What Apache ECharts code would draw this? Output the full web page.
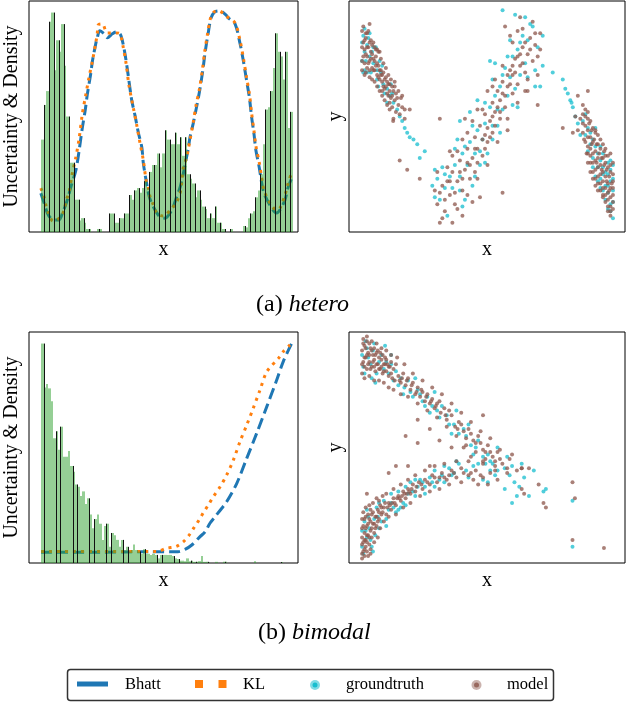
<!DOCTYPE html>
<html>
<head>
<meta charset="utf-8">
<script src="https://cdn.jsdelivr.net/npm/echarts@6/dist/echarts.min.js"></script>
<style>
body{margin:0;background:#fff;}
#chart{width:626px;height:702px;}
</style>
</head>
<body>
<div id="chart"></div>
<script type="text/javascript">
// hetero: histogram of x (100 bins, width 0.1) and the two uncertainty curves
var heteroHist = [
    0.40,0.55,0.61,0.91,0.95,0.70,0.83,0.78,0.90,0.72,
    0.50,0.30,0.30,0.14,0.14,0.05,0.06,0.04,0.013,0.013,
    0,0,0.013,0.013,0,0,0,0.08,0.08,0.04,
    0.04,0.06,0.06,0.08,0.08,0.16,0.14,0.18,0.19,0.17,
    0.19,0.22,0.19,0.26,0.29,0.29,0.34,0.28,0.34,0.44,
    0.40,0.38,0.38,0.43,0.38,0.41,0.33,0.41,0.25,0.23,
    0.21,0.15,0.18,0.14,0.11,0.10,0.06,0.08,0.06,0.11,
    0.04,0.04,0.013,0,0,0.013,0,0,0,0,
    0.026,0.02,0.06,0.08,0.09,0.15,0.18,0.25,0.38,0.53,
    0.54,0.61,0.71,0.86,0.78,0.76,0.66,0.78,0.45,0.52
];
var heteroBhatt = [
    [-0.01,0.168],[0.12,0.125],[0.25,0.082],[0.38,0.060],[0.56,0.052],[0.71,0.052],[0.85,0.082],
    [1.04,0.138],[1.18,0.194],[1.38,0.267],[1.51,0.353],[1.64,0.453],[1.75,0.526],[1.84,0.599],
    [1.97,0.685],[2.04,0.741],[2.17,0.815],[2.23,0.841],[2.33,0.871],[2.50,0.858],[2.63,0.841],
    [2.83,0.858],[2.99,0.866],[3.13,0.858],[3.21,0.836],[3.33,0.772],[3.45,0.685],[3.60,0.569],
    [3.73,0.504],[3.86,0.431],[4.00,0.366],[4.06,0.297],[4.19,0.211],[4.30,0.151],[4.46,0.108],
    [4.72,0.065],[4.92,0.060],[5.19,0.095],[5.38,0.151],[5.52,0.194],[5.65,0.254],[5.75,0.310],
    [5.85,0.366],[5.91,0.409],[6.04,0.470],[6.20,0.556],[6.31,0.621],[6.43,0.707],[6.51,0.776],
    [6.63,0.858],[6.75,0.927],[6.90,0.953],[7.10,0.957],[7.34,0.940],[7.43,0.927],[7.70,0.901],
    [7.90,0.815],[8.03,0.741],[8.16,0.655],[8.27,0.582],[8.36,0.496],[8.45,0.427],[8.53,0.353],
    [8.66,0.280],[8.76,0.211],[8.85,0.168],[9.09,0.116],[9.35,0.082],[9.48,0.095],[9.68,0.138],
    [9.81,0.194],[9.95,0.233]
];
var heteroKL = [
    [-0.01,0.190],[0.12,0.151],[0.19,0.116],[0.29,0.082],[0.48,0.047],[0.78,0.065],[0.91,0.095],
    [1.00,0.138],[1.11,0.172],[1.24,0.254],[1.38,0.323],[1.51,0.405],[1.64,0.513],[1.77,0.591],
    [1.90,0.668],[2.04,0.741],[2.17,0.819],[2.23,0.858],[2.27,0.897],[2.43,0.901],[2.63,0.862],
    [2.96,0.862],[3.13,0.858],[3.25,0.806],[3.37,0.733],[3.49,0.634],[3.66,0.539],[3.80,0.461],
    [3.93,0.384],[4.06,0.310],[4.17,0.224],[4.26,0.190],[4.33,0.151],[4.43,0.125],[4.59,0.082],
    [4.85,0.069],[5.19,0.103],[5.38,0.129],[5.52,0.168],[5.58,0.211],[5.65,0.280],[5.78,0.323],
    [5.85,0.362],[5.91,0.397],[6.04,0.474],[6.15,0.547],[6.29,0.621],[6.41,0.707],[6.49,0.776],
    [6.61,0.858],[6.73,0.927],[6.87,0.953],[7.06,0.957],[7.34,0.935],[7.70,0.905],[7.90,0.828],
    [8.03,0.754],[8.16,0.668],[8.27,0.599],[8.36,0.513],[8.45,0.440],[8.53,0.371],[8.66,0.302],
    [8.76,0.233],[8.85,0.181],[9.09,0.125],[9.35,0.095],[9.48,0.103],[9.68,0.159],[9.81,0.211],
    [9.95,0.259]
];
var heteroTruth = [
    [0.05,8.5],[0.1,7.0],[0.2,8.1],[0.3,7.6],[0.1,7.8],[0.45,7.3],[0.6,7.0],[0.7,7.4],[0.35,6.9],
    [0.85,6.4],[1.0,6.2],[1.1,5.9],[1.25,5.6],[0.55,8.0],[0.05,6.9],[1.4,5.3],[1.5,5.0],[1.6,4.8],
    [1.7,4.5],[1.8,4.3],[1.9,4.1],[2.05,4.0],[2.2,3.8],[2.5,3.5],[2.3,3.2],[2.9,2.7],[2.8,2.0],
    [0.15,7.4],[0.25,8.4],[0.4,7.8],[0.6,6.6],[0.75,6.9],[0.9,6.0],[1.2,6.0],[0.3,8.6],
    [0.0,8.2],[0.0,7.4],[0.2,6.9],[0.45,8.0],[0.8,7.2],[1.0,5.6],[1.15,6.4],[0.65,6.3],[0.1,8.8],
    [3.0,2.3],[3.1,1.4],[3.3,1.9],[3.4,0.7],[3.6,1.9],[3.7,2.9],[3.9,2.4],[4.0,3.4],[4.1,1.4],
    [4.2,2.9],[4.3,3.9],[4.4,2.0],[4.5,3.4],[4.6,4.4],[4.7,2.9],[4.8,4.0],[4.9,4.7],[5.0,3.4],
    [5.1,5.4],[5.2,4.6],[5.3,5.9],[5.4,4.6],[5.5,6.3],[5.6,5.3],[5.7,7.1],[5.8,5.9],[5.9,6.7],
    [6.0,7.6],[6.1,6.2],[6.2,7.9],[6.3,6.8],[6.4,8.5],[6.5,7.3],[6.6,8.3],[6.8,8.9],[6.9,7.0],
    [7.0,8.0],[7.1,6.3],[5.6,9.6],[6.1,9.4],[5.1,7.4],[3.8,4.0],[4.3,5.2],[3.2,2.8],[2.9,1.5],
    [3.5,2.4],[3.9,1.8],[4.1,3.7],[4.4,4.6],[4.7,3.5],[4.9,5.6],[5.2,4.0],[5.4,5.3],[5.6,6.8],
    [5.8,7.6],[6.0,5.5],[6.3,8.2],[6.6,6.7],[6.7,9.0],[5.3,7.3],
    [3.3,2.5],[3.7,3.6],[4.0,1.1],[4.5,2.4],[4.9,3.0],[5.2,6.6],[5.5,4.3],[5.9,8.3],[6.2,5.4],
    [6.5,9.3],[6.9,6.3],[7.2,8.5],[4.6,5.7],[3.9,4.8],
    [7.2,7.2],[7.6,6.9],[8.0,6.6],[8.1,6.2],[8.3,5.7],[8.4,5.4],[8.5,5.0],[8.6,4.7],[8.2,6.0],
    [8.35,5.6],[8.8,4.8],[8.9,4.2],[9.0,3.5],[9.1,3.8],[9.2,3.2],[9.3,3.7],[9.4,2.8],[9.5,3.1],
    [9.5,2.3],[9.6,2.8],[9.7,2.0],[9.8,2.5],[9.8,1.7],[9.9,2.2],[10.0,1.8],[9.9,1.2],[9.7,1.4],
    [9.8,1.0],[10.0,2.9],[9.3,2.4],[9.6,3.4],[8.7,4.2],[9.9,3.1],
    [9.0,4.5],[9.2,4.0],[9.4,3.4],[9.6,2.5],[9.8,2.0],[10.0,1.3],[9.5,1.9],[9.2,2.8],
    [8.9,5.1],[9.1,4.3],[9.3,4.5],[9.5,3.7],[9.7,2.6],[9.9,2.7],[10.0,2.3],[9.4,2.2],[9.6,1.8],
    [9.8,3.0],[10.0,0.6],[9.9,0.9]
];
var heteroModel = [
    [0.05,8.2],[0.1,7.9],[0.15,8.4],[0.2,7.6],[0.1,7.3],[0.25,8.0],[0.3,7.4],[0.35,7.8],[0.4,7.1],
    [0.45,7.5],[0.5,7.0],[0.55,7.6],[0.6,6.8],[0.65,7.2],[0.7,6.6],[0.75,7.0],[0.8,6.5],[0.85,6.9],
    [0.9,6.2],[0.95,6.7],[1.0,6.0],[1.05,6.4],[1.1,6.1],[1.15,5.8],[1.2,6.3],[1.3,5.7],[1.35,6.0],
    [1.45,5.5],[1.55,5.8],[0.2,8.6],[0.3,7.0],[0.05,7.6],[0.6,7.9],[0.4,8.1],[0.8,6.1],[1.7,5.3],
    [0.0,8.0],[0.1,8.3],[0.15,7.7],[0.2,8.0],[0.25,7.3],[0.3,8.2],[0.35,7.5],[0.4,7.7],[0.45,7.0],
    [0.5,7.4],[0.55,7.2],[0.6,7.3],[0.65,6.7],[0.7,7.0],[0.75,6.8],[0.8,6.8],[0.85,6.3],[0.9,6.6],
    [0.95,6.3],[1.0,6.5],[1.05,5.9],[1.1,6.4],[1.2,5.9],[1.25,6.1],[1.4,5.8],[0.0,7.4],[0.15,6.9],
    [0.5,8.0],[1.3,6.3],[1.6,5.4],[1.1,5.6],[0.7,7.8],
    [0.0,8.7],[0.0,7.0],[0.05,8.9],[0.1,6.8],[0.15,8.6],[0.2,7.1],[0.25,8.7],[0.3,6.7],[0.35,8.3],
    [0.4,6.6],[0.45,8.2],[0.5,6.5],[0.55,7.9],[0.6,6.3],[0.65,7.8],[0.7,6.1],[0.75,7.5],[0.8,5.9],
    [0.85,7.3],[0.9,5.7],[0.95,7.1],[1.0,5.5],[1.05,6.8],[1.1,5.3],[1.15,6.6],[1.2,5.4],[1.3,6.5],
    [1.35,5.2],[1.45,6.1],[1.5,5.1],[1.6,5.9],[1.7,4.9],[1.25,4.9],[0.3,9.0],
    [1.24,4.8],[1.9,5.3],[1.5,3.1],[1.8,2.7],[2.3,2.3],
    [3.0,1.2],[3.2,2.0],[3.3,0.9],[3.5,1.6],[3.6,2.6],[3.7,1.2],[3.8,2.2],[3.9,3.1],[4.0,1.8],
    [4.1,2.7],[4.2,3.6],[4.3,2.3],[4.4,3.2],[4.5,4.1],[4.5,2.6],[4.6,3.6],[4.7,4.6],[4.8,3.3],
    [4.9,4.2],[4.9,5.1],[5.0,3.9],[5.1,4.8],[5.2,5.6],[5.2,4.3],[5.3,5.2],[5.4,6.1],[5.5,4.9],
    [5.5,5.7],[5.6,6.5],[5.7,5.4],[5.8,6.3],[5.9,7.0],[6.0,6.0],[6.0,6.8],[6.1,7.5],[6.2,6.4],
    [6.3,7.2],[6.4,8.0],[6.5,6.9],[6.6,7.7],[6.7,8.4],[6.8,7.4],[6.9,8.1],[7.0,7.6],[7.1,8.6],
    [6.2,8.7],[5.7,8.9],[3.4,2.8],[3.1,0.4],[2.9,1.8],[4.0,0.7],[4.4,1.3],[3.6,0.4],[5.8,4.9],
    [6.6,6.1],[7.0,5.5],[4.2,4.3],[5.0,6.1],[4.7,1.5],[3.1,4.9],[5.6,1.7],
    [3.1,1.7],[3.3,1.4],[3.5,2.2],[3.7,1.7],[3.9,2.6],[4.0,2.3],[4.2,3.0],[4.3,2.9],[4.5,3.6],
    [4.6,3.0],[4.8,4.0],[4.9,3.6],[5.0,4.5],[5.1,4.1],[5.2,5.0],[5.3,4.6],[5.4,5.4],[5.5,5.2],
    [5.6,6.0],[5.7,5.9],[5.8,6.8],[5.9,6.4],[6.0,7.2],[6.1,6.9],[6.2,7.6],[6.3,7.7],[6.4,7.3],
    [6.5,8.2],[6.7,7.9],[6.9,8.6],[5.3,6.6],[4.6,5.3],[6.5,6.1],[3.8,3.5],
    [3.0,2.6],[3.2,0.6],[3.4,2.2],[3.6,3.3],[3.8,1.0],[4.0,4.0],[4.2,1.6],[4.4,4.8],[4.6,2.3],
    [4.8,5.3],[5.0,2.9],[5.2,6.3],[5.4,3.9],[5.6,7.2],[5.8,4.4],[6.0,8.2],[6.2,5.6],[6.4,8.8],
    [6.6,6.6],[6.8,9.1],[7.0,6.8],[7.1,7.9],[5.9,8.5],[6.3,9.3],[4.1,4.9],[3.5,3.5],
    [9.0,6.1],[8.6,5.9],[8.0,4.5],
    [8.7,4.9],[8.8,4.3],[8.8,5.1],[8.9,4.6],[8.9,3.9],[9.0,4.4],[9.0,3.7],[9.1,4.1],[9.1,3.3],
    [9.2,3.9],[9.2,3.0],[9.3,3.5],[9.3,2.7],[9.4,3.2],[9.4,2.4],[9.5,2.9],[9.5,2.1],[9.6,2.6],
    [9.6,1.9],[9.7,2.4],[9.7,1.6],[9.8,2.1],[9.8,1.4],[9.9,1.9],[9.9,2.6],[10.0,1.6],[9.5,3.6],
    [9.6,3.2],[9.8,2.8],[9.0,3.0],[9.2,2.3],[9.4,1.8],[9.9,1.1],[8.6,4.4],[9.3,4.3],[9.7,3.0],
    [10.0,2.2],[9.1,2.6],[8.5,5.0],[8.4,4.3],[9.0,5.2],[9.9,0.7],
    [8.8,4.7],[8.9,5.0],[9.0,4.1],[9.05,4.7],[9.1,3.6],[9.15,4.4],[9.2,3.4],[9.25,4.0],[9.3,3.1],
    [9.35,3.8],[9.4,2.8],[9.45,3.4],[9.5,2.5],[9.55,3.2],[9.6,2.2],[9.65,2.9],[9.7,1.9],[9.75,2.7],
    [9.8,1.7],[9.85,2.4],[9.9,1.5],[9.95,2.1],[10.0,1.3],[10.0,2.5],[9.3,2.0],[9.7,3.3],[9.4,3.8],
    [8.95,3.4],[9.9,2.9],[9.6,1.5],[9.8,0.9],
    [8.8,5.5],[8.85,4.0],[8.9,5.3],[9.0,3.4],[9.0,4.9],[9.1,3.0],[9.1,4.8],[9.2,2.6],[9.2,4.5],
    [9.3,2.3],[9.3,4.4],[9.4,2.1],[9.4,4.2],[9.5,1.8],[9.5,4.0],[9.6,1.6],[9.6,3.8],[9.7,1.3],
    [9.7,3.6],[9.8,1.1],[9.8,3.3],[9.9,0.9],[9.9,3.4],[10.0,1.0],[10.0,3.0],[9.55,2.7],[9.75,2.2],
    [9.85,1.8],[9.35,3.0],[9.15,3.8],[10.0,1.9],[9.65,3.5]
];

// bimodal
var bimodalHist = [
    0.95,0.76,0.775,0.756,0.70,0.54,0.57,0.49,0.59,0.46,
    0.46,0.485,0.42,0.395,0.34,0.33,0.29,0.31,0.255,0.28,
    0.21,0.15,0.19,0.21,0.17,0.10,0.16,0.17,0.07,0.13,
    0.12,0.10,0.07,0.10,0.056,0.07,0.05,0.056,0.08,0.056,
    0.05,0.04,0.06,0.04,0.04,0.035,0.04,0.035,0.02,0.035,
    0.035,0.035,0.035,0.035,0.03,0.02,0.017,0.01,0.01,0.008,
    0.02,0.008,0.01,0.005,0.005,0.008,0.03,0.005,0.005,0.003,
    0,0,0.005,0,0,0.005,0.005,0,0,0,
    0,0,0,0,0,0,0,0,0.008,0,
    0,0,0,0,0,0,0,0,0,0.004
];
var bimodalBhatt = [
    [0.00,0.047],[2.44,0.047],[4.50,0.049],[5.66,0.049],[5.95,0.059],[6.23,0.078],[6.57,0.114],
    [6.78,0.135],[6.98,0.172],[7.19,0.200],[7.47,0.237],[7.67,0.265],[8.09,0.345],[8.50,0.453],
    [8.91,0.561],[9.33,0.677],[9.74,0.792],[10.01,0.872],[10.36,0.951]
];
var bimodalKL = [
    [0.00,0.050],[4.79,0.050],[5.19,0.064],[5.58,0.071],[5.88,0.092],[6.12,0.121],[6.32,0.153],
    [6.53,0.186],[6.71,0.218],[6.91,0.251],[7.12,0.287],[7.40,0.330],[7.67,0.381],[7.95,0.446],
    [8.22,0.525],[8.50,0.597],[8.77,0.670],[9.05,0.749],[9.33,0.828],[9.81,0.886],[10.01,0.915],
    [10.29,0.944]
];
var bimodalTruth = [
    [0.0,9.0],[0.1,8.2],[0.2,9.3],[0.35,8.6],[0.5,9.5],[0.6,8.2],[0.8,9.0],[1.0,8.7],[1.2,8.6],
    [1.4,8.3],[1.6,8.0],[1.75,7.6],[1.9,7.9],[2.1,7.2],[2.3,7.5],[2.5,7.0],[2.7,7.2],[2.9,6.8],
    [3.1,6.6],[3.3,6.8],[3.5,6.4],[3.8,6.0],[4.0,5.6],[4.3,5.5],[4.5,5.1],[4.7,5.0],[5.0,4.6],
    [5.2,4.7],[5.4,4.3],[5.6,4.0],[5.9,4.1],[6.1,3.8],[6.3,3.5],[6.5,3.3],[6.0,4.6],[1.2,9.0],
    [0.4,8.0],
    [0.05,8.5],[0.25,8.9],[0.45,9.2],[0.7,8.7],[0.9,8.4],[1.1,8.2],[1.5,7.7],[2.0,7.4],[2.4,7.3],
    [2.6,6.8],[3.2,6.3],[3.6,6.0],[4.2,5.8],[4.8,5.3],[5.1,4.3],
    [0.15,9.6],[0.55,7.8],[0.95,9.4],[1.3,7.9],[1.7,7.3],[2.2,8.0],[2.8,6.5],[3.0,7.4],[3.7,5.6],
    [3.9,6.6],[4.6,4.7],[4.4,6.0],[5.3,4.4],[5.6,5.0],[6.2,4.2],[6.7,3.7],
    [0.0,0.7],[0.1,1.8],[0.2,1.1],[0.3,1.5],[0.4,0.7],[0.5,1.9],[0.6,2.4],[0.7,1.5],[0.9,2.7],
    [1.0,1.9],[1.2,2.6],[1.4,2.2],[1.5,3.1],[1.7,2.6],[1.9,3.0],[2.0,3.5],[2.2,2.9],[2.4,3.6],
    [2.6,3.3],[2.8,3.7],[3.0,4.0],[3.2,3.6],[3.4,4.2],[3.6,4.1],[3.8,3.9],[4.0,4.3],[4.3,4.0],
    [4.6,4.2],[5.0,3.6],[5.3,4.0],[5.5,3.8],
    [0.05,0.4],[0.15,1.4],[0.25,2.0],[0.35,1.0],[0.55,1.2],[0.65,2.0],[0.8,1.8],[1.1,2.3],[1.3,2.4],
    [1.6,2.4],[1.8,3.3],[2.1,3.1],[2.3,3.3],[2.5,3.5],[2.9,3.5],[3.3,3.8],[3.7,3.8],
    [0.0,1.4],[0.2,2.3],[0.45,0.5],[0.7,2.6],[1.0,1.6],[1.2,3.0],[1.5,2.3],[1.8,2.5],[2.2,3.6],
    [2.6,3.0],[3.0,3.3],[3.4,3.5],[3.9,4.4],[4.4,3.7],[4.8,4.3],[5.2,3.5],
    [6.2,2.6],[6.9,2.9],[7.5,3.1],[7.6,3.2],[8.7,2.7],[8.7,0.7],[6.6,4.3],[7.1,4.0],[5.9,3.2],
    [6.4,2.9]
];
var bimodalModel = [
    [0.0,9.2],[0.05,8.7],[0.1,9.4],[0.15,8.9],[0.2,8.4],[0.25,9.1],[0.3,8.7],[0.35,9.3],[0.4,8.5],
    [0.45,9.0],[0.5,8.8],[0.55,8.3],[0.6,9.1],[0.65,8.6],[0.7,8.9],[0.75,8.4],[0.8,8.8],[0.85,8.2],
    [0.9,8.6],[0.95,8.9],[1.0,8.3],[1.05,8.6],[1.1,8.1],[1.15,8.5],[1.2,8.2],[1.3,8.4],[1.35,7.9],
    [0.1,8.5],[0.3,9.5],[0.5,9.3],[0.75,9.1],[0.2,9.6],
    [0.0,8.6],[0.05,9.5],[0.1,8.9],[0.2,9.0],[0.25,8.6],[0.3,9.0],[0.4,9.2],[0.45,8.7],[0.5,8.5],
    [0.55,9.0],[0.6,8.6],[0.65,9.2],[0.7,8.4],[0.8,8.5],[0.85,9.0],[0.9,8.3],[1.0,8.8],[1.1,8.5],
    [1.2,8.7],[1.25,8.0],[1.4,8.6],[0.15,9.3],[0.35,8.4],[0.95,8.6],
    [0.0,8.2],[0.05,9.7],[0.1,8.0],[0.2,9.8],[0.3,8.1],[0.4,9.6],[0.5,7.9],[0.6,9.5],[0.7,7.9],
    [0.8,9.3],[0.9,7.8],[1.0,9.2],[1.1,7.6],[1.2,9.0],[1.3,7.5],[1.45,8.9],[1.6,7.3],[1.75,8.6],
    [1.9,7.2],[2.1,8.2],[2.3,6.9],[2.5,7.9],[2.7,6.6],[2.9,7.6],[3.1,6.3],[3.3,7.3],[3.5,5.9],
    [3.7,6.9],[3.9,5.5],[4.1,6.5],[4.3,5.1],[4.5,6.1],[4.7,4.8],[4.9,5.7],[5.1,4.5],[5.3,5.4],
    [5.5,4.0],[5.7,4.9],[6.0,4.1],[6.2,4.7],
    [1.5,8.1],[1.6,7.8],[1.7,8.2],[1.8,7.7],[1.9,8.0],[2.0,7.5],[2.1,7.8],[2.2,7.3],[2.3,7.6],
    [2.4,7.2],[2.5,7.4],[2.6,7.0],[2.7,7.3],[2.8,6.9],[2.9,7.1],[3.0,6.7],[3.1,6.9],[3.25,6.5],
    [3.4,6.7],[3.5,6.2],[3.7,6.4],[3.85,5.9],[4.0,6.1],[4.2,5.7],[4.4,5.8],[4.6,5.3],[4.8,5.5],
    [5.0,4.9],[5.2,5.1],[5.4,4.6],[5.6,4.8],[5.8,4.3],[6.1,4.5],[6.4,4.0],[6.6,4.1],
    [1.55,7.9],[1.65,8.0],[1.85,7.9],[2.05,7.7],[2.25,7.4],[2.45,7.5],[2.65,7.2],[2.85,7.0],[3.05,6.8],
    [3.2,7.0],[3.45,6.4],[3.6,6.6],[3.95,5.8],[4.1,6.0],[4.3,5.4],[4.5,5.6],[4.7,5.2],[4.9,5.2],
    [5.1,4.8],[5.3,4.8],[5.5,4.4],[5.7,4.5],
    [0.0,0.4],[0.05,0.9],[0.1,0.6],[0.1,1.3],[0.15,1.0],[0.2,0.5],[0.2,1.6],[0.25,1.2],[0.3,0.8],
    [0.3,1.9],[0.35,1.4],[0.4,1.1],[0.4,2.1],[0.45,1.7],[0.5,1.3],[0.55,2.0],[0.6,1.6],[0.65,2.3],
    [0.7,1.9],[0.75,2.5],[0.8,2.1],[0.05,1.6],[0.0,1.1],[0.15,2.0],[0.25,0.3],[0.35,2.3],
    [0.0,0.8],[0.0,1.5],[0.05,0.5],[0.1,1.0],[0.1,1.9],[0.15,0.7],[0.15,1.5],[0.2,1.2],[0.25,1.7],
    [0.3,1.1],[0.35,0.6],[0.35,1.8],[0.4,1.5],[0.45,2.2],[0.5,1.7],[0.55,1.5],[0.6,2.0],[0.65,1.8],
    [0.7,2.2],[0.8,2.4],[0.85,2.2],[0.25,2.1],
    [0.0,0.2],[0.0,1.9],[0.05,2.2],[0.1,0.3],[0.15,2.4],[0.2,0.9],[0.3,2.5],[0.35,0.4],[0.45,2.6],
    [0.5,0.9],[0.6,2.8],[0.65,1.1],[0.7,2.7],[0.75,1.5],[0.85,2.9],[0.9,1.8],[1.0,3.0],[1.1,2.0],
    [1.3,3.2],[1.4,2.1],[1.6,3.4],[1.7,2.4],[1.9,3.6],[2.0,2.6],[2.2,3.8],[2.4,2.9],[2.6,4.0],
    [2.8,3.1],[3.0,4.2],[3.2,3.2],[3.4,4.3],[3.6,3.4],[3.9,4.4],[4.1,3.5],[4.4,4.4],[4.6,3.6],
    [5.0,4.3],[5.2,3.4],
    [0.9,2.4],[1.0,2.1],[1.1,2.6],[1.2,2.3],[1.3,2.8],[1.4,2.5],[1.5,2.9],[1.6,2.7],[1.7,3.1],
    [1.8,2.8],[1.9,3.2],[2.0,3.0],[2.1,3.4],[2.2,3.1],[2.35,3.5],[2.5,3.2],[2.6,3.6],[2.8,3.4],
    [2.9,3.8],[3.1,3.5],[3.3,3.9],[3.5,3.6],[3.7,4.0],[3.9,3.7],[4.1,4.1],[4.4,3.8],[4.7,4.0],
    [5.0,3.7],[5.3,3.9],[5.6,3.6],
    [0.95,2.6],[1.05,2.4],[1.15,2.5],[1.25,2.6],[1.35,2.6],[1.45,2.8],[1.55,2.8],[1.65,2.9],[1.75,3.0],
    [1.85,3.0],[1.95,3.1],[2.05,3.2],[2.25,3.3],[2.45,3.4],[2.7,3.5],[3.0,3.7],[3.2,3.7],[3.4,3.7],
    [3.6,3.8],[3.8,3.9],[4.2,3.9],[4.5,3.9],[4.9,3.8],
    [2.3,6.2],[1.8,5.5],[2.3,5.2],[2.8,5.8],[3.2,5.3],[1.4,4.2],[1.9,4.2],[1.1,3.9],[2.8,4.2],
    [0.2,3.0],[3.7,5.0],[4.2,5.0],[5.0,6.4],[5.0,4.4],[6.6,4.1],[6.9,4.1],[6.6,3.2],[6.7,3.0],
    [7.3,3.4],[7.5,2.6],[7.6,2.4],[8.7,3.5],[8.8,2.8],[8.7,1.0],[10.0,0.65],[4.5,4.6],[5.5,4.2],
    [6.0,3.9],[4.8,3.4]
];

var BIN = 0.1;
var serif = 'Liberation Serif';

function histData(hist, edgeFn) {
    var out = [];
    for (var i = 0; i < hist.length; i++) {
        var prev = i > 0 ? hist[i - 1] : 0;
        out.push([i * BIN, (i + 1) * BIN, hist[i], Math.max(prev, hist[i]), edgeFn(i) ? 1 : 0]);
    }
    return out;
}

function renderBar(params, api) {
    var lo = api.coord([api.value(0), 0]);
    var hi = api.coord([api.value(1), api.value(2)]);
    var x0 = Math.round(lo[0]), x1 = Math.round(hi[0]);
    var children = [];
    if (api.value(2) > 0) {
        children.push({
            type: 'rect',
            shape: {x: x0, y: hi[1], width: x1 - x0, height: lo[1] - hi[1]},
            style: {fill: 'rgba(44,160,44,0.5)'}
        });
    }
    if (api.value(4) && api.value(3) > 0) {
        var top = api.coord([api.value(0), api.value(3)]);
        children.push({
            type: 'line',
            shape: {x1: x0 + 0.5, y1: lo[1], x2: x0 + 0.5, y2: top[1]},
            style: {stroke: '#111', lineWidth: 1}
        });
    }
    return {type: 'group', children: children};
}

function histSeries(idx, hist, edgeFn) {
    return {
        type: 'custom', xAxisIndex: idx, yAxisIndex: idx, z: 5,
        renderItem: renderBar, encode: {x: [0, 1], y: 2},
        data: histData(hist, edgeFn), silent: true
    };
}

function curve(idx, data, color, dash, z) {
    return {
        type: 'line', xAxisIndex: idx, yAxisIndex: idx, data: data, z: z,
        showSymbol: false, smooth: 0.3, silent: true,
        lineStyle: {color: color, width: 3, type: dash, cap: 'butt'}
    };
}

function dots(idx, data, color, opacity, z) {
    return {
        type: 'scatter', xAxisIndex: idx, yAxisIndex: idx, data: data, z: z,
        symbolSize: 4, silent: true,
        itemStyle: {color: color, opacity: opacity}
    };
}

function xAx(idx, min, max) {
    return {
        gridIndex: idx, type: 'value', min: min, max: max, name: 'x',
        nameLocation: 'middle', nameGap: 8,
        nameTextStyle: {fontFamily: serif, fontSize: 20, color: '#000'},
        axisLine: {show: false}, axisTick: {show: false}, axisLabel: {show: false}, splitLine: {show: false}
    };
}

function yAx(idx, min, max, name, gap) {
    return {
        gridIndex: idx, type: 'value', min: min, max: max, name: name,
        nameLocation: 'middle', nameGap: gap,
        nameTextStyle: {fontFamily: serif, fontSize: 20, color: '#000'},
        axisLine: {show: false}, axisTick: {show: false}, axisLabel: {show: false}, splitLine: {show: false}
    };
}

var gridBase = {show: true, borderColor: '#000', borderWidth: 1, backgroundColor: 'transparent'};

var chart = echarts.init(document.getElementById('chart'), null, {renderer: 'canvas'});
var option = {
    animation: false,
    backgroundColor: '#fff',
    grid: [
        Object.assign({left: 29, top: 1, width: 269, height: 231}, gridBase),
        Object.assign({left: 349, top: 1, width: 276, height: 231}, gridBase),
        Object.assign({left: 29, top: 332, width: 269, height: 231}, gridBase),
        Object.assign({left: 349, top: 332, width: 276, height: 231}, gridBase)
    ],
    xAxis: [xAx(0, -0.48, 10.2), xAx(1, -0.52, 10.48), xAx(2, -0.5, 10.62), xAx(3, -0.54, 10.87)],
    yAxis: [
        yAx(0, 0, 1, 'Uncertainty & Density', 7),
        yAx(1, 0, 10, 'y', 3),
        yAx(2, 0, 1, 'Uncertainty & Density', 7),
        yAx(3, 0, 10, 'y', 3)
    ],
    series: [
        curve(0, heteroBhatt, '#1f77b4', [11, 5], 2),
        curve(0, heteroKL, '#ff7f0e', [3, 5], 3),
        histSeries(0, heteroHist, function (i) { return i % 2 == 1; }),
        dots(1, heteroTruth, '#17becf', 0.75, 2),
        dots(1, heteroModel, '#8c564b', 0.75, 3),
        curve(2, bimodalBhatt, '#1f77b4', [11, 5], 2),
        curve(2, bimodalKL, '#ff7f0e', [3, 5], 3),
        histSeries(2, bimodalHist, function (i) { return i % 7 == 1 || i % 7 == 6; }),
        dots(3, bimodalTruth, '#17becf', 0.75, 2),
        dots(3, bimodalModel, '#8c564b', 0.75, 3)
    ],
    graphic: [
        {type: 'text', left: 256, top: 293, style: {text: '(a) {i|hetero}', fontFamily: serif, fontSize: 24, fill: '#000',
            rich: {i: {fontFamily: serif, fontSize: 24, fontStyle: 'italic', fill: '#000'}}}},
        {type: 'text', left: 258, top: 621, style: {text: '(b) {i|bimodal}', fontFamily: serif, fontSize: 24, fill: '#000',
            rich: {i: {fontFamily: serif, fontSize: 24, fontStyle: 'italic', fill: '#000'}}}},
        // legend box
        {type: 'rect', shape: {x: 67.5, y: 669.5, width: 486, height: 31, r: 3},
            style: {fill: '#fff', stroke: '#333', lineWidth: 1.5}},
        {type: 'rect', shape: {x: 77, y: 681.5, width: 31, height: 5}, style: {fill: '#1f77b4'}},
        {type: 'text', x: 125, y: 685, style: {text: 'Bhatt', fontFamily: serif, fontSize: 16.5, fill: '#000', verticalAlign: 'middle'}},
        {type: 'rect', shape: {x: 195, y: 680, width: 8, height: 8}, style: {fill: '#ff7f0e'}},
        {type: 'rect', shape: {x: 218.5, y: 680, width: 8, height: 8}, style: {fill: '#ff7f0e'}},
        {type: 'text', x: 243, y: 685, style: {text: 'KL', fontFamily: serif, fontSize: 16.5, fill: '#000', verticalAlign: 'middle'}},
        {type: 'circle', shape: {cx: 315, cy: 685, r: 5}, style: {fill: '#17becf', opacity: 0.55}},
        {type: 'circle', shape: {cx: 315, cy: 685, r: 2.5}, style: {fill: '#17becf'}},
        {type: 'text', x: 346, y: 685, style: {text: 'groundtruth', fontFamily: serif, fontSize: 16.5, fill: '#000', verticalAlign: 'middle'}},
        {type: 'circle', shape: {cx: 476.5, cy: 685, r: 5}, style: {fill: '#8c564b', opacity: 0.45}},
        {type: 'circle', shape: {cx: 476.5, cy: 685, r: 2.5}, style: {fill: '#8c564b', opacity: 0.8}},
        {type: 'text', x: 507, y: 685, style: {text: 'model', fontFamily: serif, fontSize: 16.5, fill: '#000', verticalAlign: 'middle'}}
    ]
};
chart.setOption(option);
</script>
</body>
</html>
